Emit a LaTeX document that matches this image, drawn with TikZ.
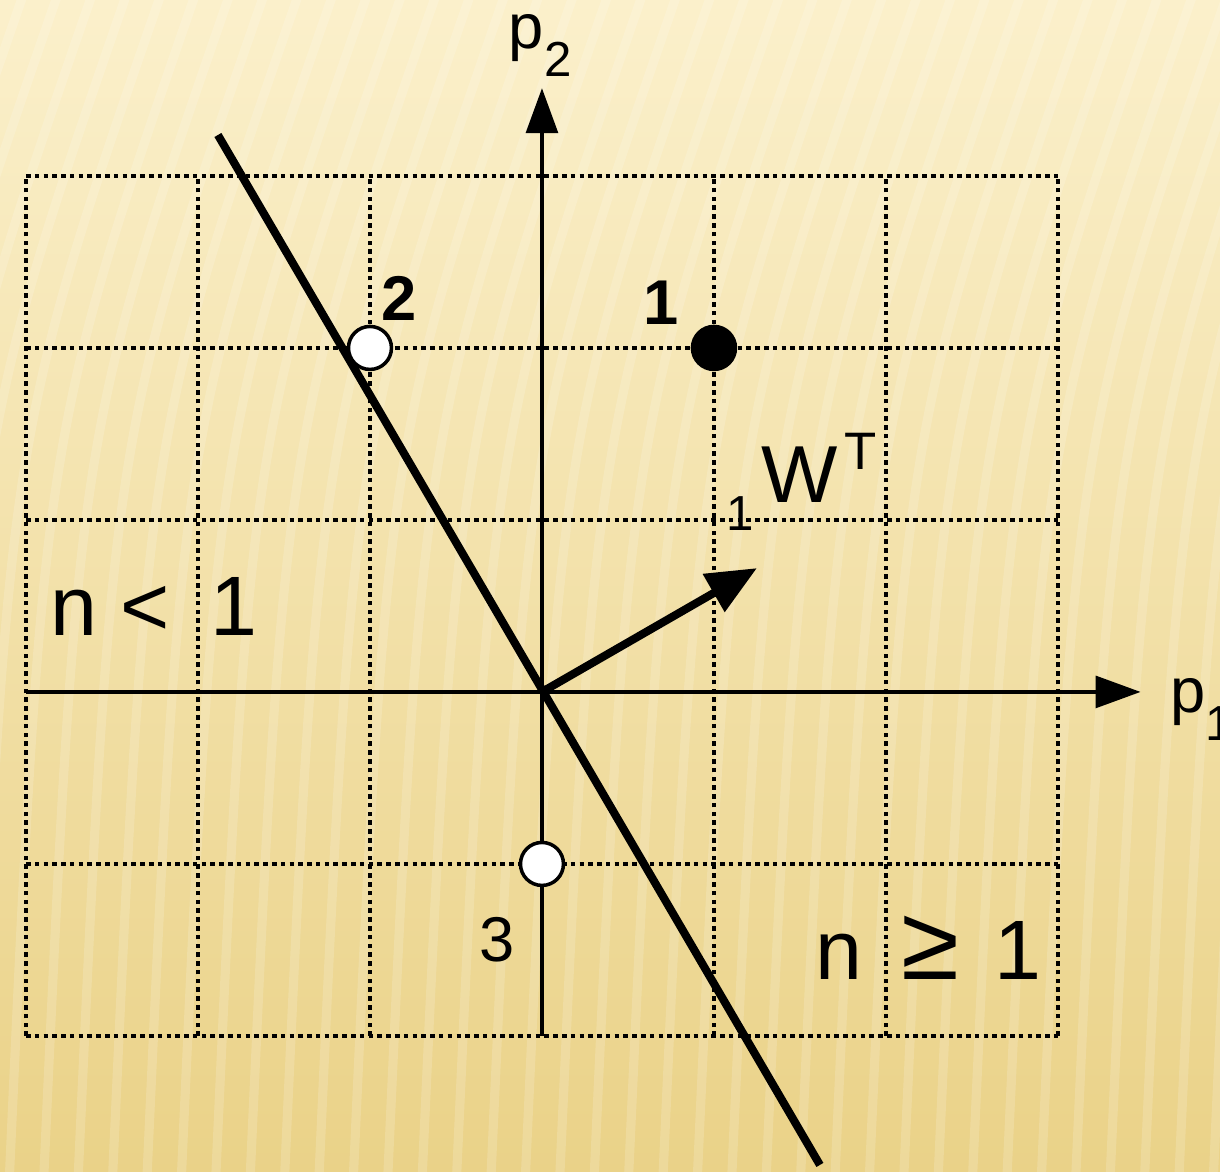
\documentclass[tikz,border=0pt]{standalone}
\usepackage{fontspec}
\setmainfont{Liberation Sans}
\usetikzlibrary{arrows.meta,positioning}
\definecolor{bgTop}{RGB}{251,240,203}
\definecolor{bgBottom}{RGB}{234,210,136}
\newcommand{\lowidx}[1]{\raisebox{-8pt}{\fontsize{14}{14}\selectfont #1}}

\begin{document}
\begin{tikzpicture}[x=1.72cm,y=1.72cm,
	gridline/.style={line width=0.95pt,dash pattern=on 1.3pt off 1.2pt},
	axis/.style={line width=0.9pt,-{Triangle[length=0.45cm,width=0.32cm]}},
	sample/.style={circle,draw=black,line width=1pt,minimum size=0.43cm,inner sep=0pt},
	numlbl/.style={font=\fontsize{18}{18}\selectfont,inner sep=0pt},
	rangelbl/.style={font=\fontsize{24}{24}\selectfont,inner sep=0pt,anchor=base west}
	]
	% background
	\useasboundingbox (-3.151,-2.791) rectangle (3.942,4.023);
	\shade[top color=bgTop,bottom color=bgBottom] (-3.151,-2.791) rectangle (3.942,4.023);
	\begin{scope}
		\clip (-3.151,-2.791) rectangle (3.942,4.023);
		\foreach \s in {-4,-3.8,...,5.4}
			\draw[white,opacity=0.16,line width=2.6pt] (\s,4.1) .. controls (\s-0.9,1.5) .. (\s-1.1,-2.9);
	\end{scope}

	% grid
	\foreach \gx in {-3,...,3}
		\draw[gridline] (\gx,-2) -- (\gx,3);
	\foreach \gy in {-2,...,3}
		\draw[gridline] (-3,\gy) -- (3,\gy);

	% axes
	\coordinate (o) at (0,0);
	\coordinate (xl) at (-3,0);
	\coordinate (xr) at (3.48,0);
	\coordinate (yb) at (0,-2);
	\coordinate (yt) at (0,3.51);
	\draw[axis] (xl) -- (xr);
	\draw[axis] (yb) -- (yt);
	\node[font=\fontsize{18}{18}\selectfont,inner sep=0pt] (p2) at (-0.01,3.76) {p\lowidx{2}};
	\node[font=\fontsize{18}{18}\selectfont,inner sep=0pt,anchor=base west] (p1) at (3.65,-0.12) {p\lowidx{1}};

	% decision boundary
	\coordinate (bTop) at (-1.884,3.238);
	\coordinate (bBot) at (1.616,-2.750);
	\draw[line width=2.3pt] (bTop) -- (bBot);

	% weight vector
	\coordinate (wTip) at (1.25,0.72);
	\draw[line width=2.3pt,-{Triangle[length=0.5cm,width=0.42cm]}] (o) -- (wTip);
	\node[inner sep=0pt,anchor=base west,font=\fontsize{23}{23}\selectfont] (wlbl) at (1.07,1.10)
		{\lowidx{1}\hspace{2pt}W\hspace{2pt}\raisebox{9.5pt}{\fontsize{15}{15}\selectfont T}};

	% input vectors
	\node[sample,fill=black] (s1) at (1,2) {};
	\node[sample,fill=white] (s2) at (-1,2) {};
	\node[sample,fill=white] (s3) at (0,-1) {};
	\node[numlbl,font=\fontsize{18}{18}\selectfont\bfseries] (n1) at (0.69,2.26) {1};
	\node[numlbl,font=\fontsize{18}{18}\selectfont\bfseries] (n2) at (-0.83,2.29) {2};
	\node[numlbl] (n3) at (-0.26,-1.44) {3};

	% regions
	\node[rangelbl] (neg) at (-2.86,0.331) {n\hspace{6.5pt}<\hspace{11.5pt}1};
	\node[rangelbl] (pos) at (1.587,-1.674) {n\hspace{11pt}{\fontsize{30}{30}\selectfont ≥}\hspace{10pt}1};
\end{tikzpicture}
\end{document}
